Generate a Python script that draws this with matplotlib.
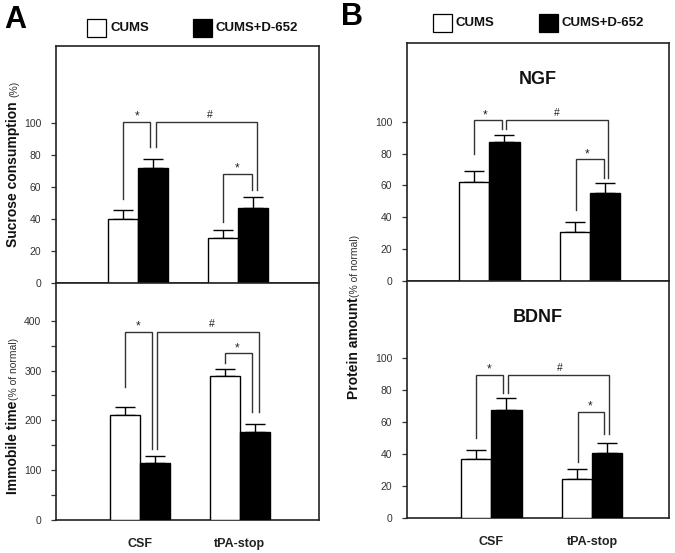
import matplotlib
matplotlib.use("Agg")
import matplotlib.pyplot as plt
from matplotlib.patches import Rectangle
from matplotlib.ticker import FixedLocator

plt.rcParams['font.family'] = ['Liberation Sans', 'DejaVu Sans']

# ---------------- data ----------------
categories = ['CSF', 'tPA-stop']
series_names = ['CUMS', 'CUMS+D-652']

sucrose_cums = [40, 28]
sucrose_cums_err = [6, 5.5]
sucrose_d652 = [72, 47]
sucrose_d652_err = [5.5, 7]

immobile_cums = [211, 288]
immobile_cums_err = [16, 15]
immobile_d652 = [115, 176]
immobile_d652_err = [13, 17]

ngf_cums = [62, 31]
ngf_cums_err = [7.3, 6]
ngf_d652 = [87.5, 55.5]
ngf_d652_err = [4.2, 6.3]

bdnf_cums = [37, 24.5]
bdnf_cums_err = [5.5, 6]
bdnf_d652 = [67.5, 41]
bdnf_d652_err = [7.3, 6.2]

pct_ticks = [0, 20, 40, 60, 80, 100]
immobile_ticks = [0, 100, 200, 300, 400]
immobile_minor_ticks = [50, 150, 250, 350]

# significance brackets: (x_left, x_right, y_left_end, y_top, y_right_end, symbol, label_x)
sucrose_brackets = [(-0.15, 0.12, 52.7, 100.8, 84.7, '*', -0.01),
                    (0.174, 1.184, 84.7, 100.8, 58, '#', 0.72),
                    (0.85, 1.134, 38.5, 68.3, 58, '*', 0.985)]
immobile_brackets = [(-0.15, 0.12, 266, 378, 142.5, '*', -0.01),
                     (0.17, 1.19, 142.5, 378, 216, '#', 0.72),
                     (0.85, 1.12, 314.6, 334.7, 216, '*', 0.98)]
ngf_brackets = [(-0.152, 0.123, 80, 101, 95.2, '*', -0.04),
                (0.166, 1.18, 95.2, 101, 64.5, '#', 0.67),
                (0.858, 1.139, 44.6, 76.4, 64.5, '*', 0.967)]
bdnf_brackets = [(-0.155, 0.12, 49.9, 89.4, 78, '*', -0.02),
                 (0.17, 1.17, 78, 89.4, 52.6, '#', 0.68),
                 (0.86, 1.12, 35.3, 66.5, 52.6, '*', 0.98)]

# ---------------- figure ----------------
W, H = 675, 553
fig = plt.figure(figsize=(W / 100, H / 100), dpi=100)


def rect(left, top, right, bottom):
    return [left / W, 1 - bottom / H, (right - left) / W, (bottom - top) / H]


LINE = '#222222'
TICKC = '#333333'


def panel(ax, cums, cums_err, d652, d652_err, brackets, ylim, ticks, minor=None,
          xlim=(-0.823, 1.807), show_x=False, title=None):
    x = list(range(len(categories)))
    w = 0.3
    xl = [i - w / 2 for i in x]
    xr = [i + w / 2 for i in x]
    ax.bar(xl, cums, width=w, color='white', edgecolor='black', linewidth=1.0, zorder=3)
    ax.bar(xr, d652, width=w, color='black', edgecolor='black', linewidth=1.0, zorder=3)
    ax.errorbar(xl, cums, yerr=[[0] * len(cums), cums_err], fmt='none', ecolor='black',
                elinewidth=1.0, capsize=7, capthick=1.0, zorder=2)
    ax.errorbar(xr, d652, yerr=[[0] * len(d652), d652_err], fmt='none', ecolor='black',
                elinewidth=1.0, capsize=7, capthick=1.0, zorder=2)
    for (x0, x1, y0, yt, y1, sym, lx) in brackets:
        ax.plot([x0, x0, x1, x1], [y0, yt, yt, y1], color='#333333', lw=1.0, zorder=4,
                solid_joinstyle='miter')
        off = 1.5 if sym == '*' else 3
        ax.annotate(sym, xy=(lx, yt), xytext=(0, off), textcoords='offset points',
                    ha='center', va='baseline', fontsize=8.5 if sym == '*' else 7.5,
                    color='#222222')
    ax.set_xlim(*xlim)
    ax.set_ylim(*ylim)
    ax.yaxis.set_major_locator(FixedLocator(ticks))
    if minor:
        ax.yaxis.set_minor_locator(FixedLocator(minor))
    ax.tick_params(axis='y', which='major', direction='out', length=3.5, width=0.9,
                   colors=TICKC, labelsize=7.5, pad=7)
    ax.tick_params(axis='y', which='minor', direction='out', length=3.5, width=0.9,
                   colors=TICKC)
    if show_x:
        ax.set_xticks(x)
        ax.set_xticklabels(categories, fontsize=9, fontweight='bold', color='#222222')
        ax.tick_params(axis='x', length=0, pad=13)
    else:
        ax.set_xticks([])
    for s in ax.spines.values():
        s.set_color(LINE)
        s.set_linewidth(1.2)
    if title:
        ax.text(0.5, 0.845, title, transform=ax.transAxes, ha='center', va='center',
                fontsize=13, fontweight='bold', color='#111111')


# Panel A
axA1 = fig.add_axes(rect(56, 46, 319, 283.3))
axA2 = fig.add_axes(rect(56, 283.3, 319, 520))
panel(axA1, sucrose_cums, sucrose_cums_err, sucrose_d652, sucrose_d652_err,
      sucrose_brackets, (0, 148), pct_ticks)
panel(axA2, immobile_cums, immobile_cums_err, immobile_d652, immobile_d652_err,
      immobile_brackets, (0, 475), immobile_ticks, minor=immobile_minor_ticks,
      xlim=(-0.835, 1.795), show_x=True)

# Panel B
axB1 = fig.add_axes(rect(406.7, 42.7, 669.3, 281))
axB2 = fig.add_axes(rect(406.7, 281, 669.3, 518.3))
panel(axB1, ngf_cums, ngf_cums_err, ngf_d652, ngf_d652_err, ngf_brackets,
      (0, 149.6), pct_ticks, xlim=(-0.82, 1.787), title='NGF')
panel(axB2, bdnf_cums, bdnf_cums_err, bdnf_d652, bdnf_d652_err, bdnf_brackets,
      (0, 148), pct_ticks, xlim=(-0.84, 1.767), show_x=True, title='BDNF')


def fx(px):
    return px / W


def fy(py):
    return 1 - py / H


# y-axis labels (bold part + small part)
def ylabel(xb, yc_bold, text_bold, yc_small, text_small, bsize, ssize):
    fig.text(fx(xb), fy(yc_bold), text_bold, rotation=90, rotation_mode='anchor',
             ha='center', va='baseline', fontsize=bsize, fontweight='bold', color='#111111')
    fig.text(fx(xb), fy(yc_small), text_small, rotation=90, rotation_mode='anchor',
             ha='center', va='baseline', fontsize=ssize, color='#333333')


ylabel(17, 174, 'Sucrose consumption', 89, '(%)', 10, 7.5)
ylabel(17, 447, 'Immobile time', 369, '(% of normal)', 10, 7.5)
ylabel(358, 348, 'Protein amount', 266, '(% of normal)', 10, 7.5)

# Panel letters
fig.text(fx(4), fy(28), 'A', fontsize=22, fontweight='bold', ha='left', va='baseline')
fig.text(fx(341), fy(25), 'B', fontsize=22, fontweight='bold', ha='left', va='baseline')


# Legends
def legend(x_white, x_black, y_top, size=(19, 18)):
    sw, sh = size
    for xs, fc, name in [(x_white, 'white', series_names[0]), (x_black, 'black', series_names[1])]:
        fig.patches.append(Rectangle((fx(xs), fy(y_top + sh)), sw / W, sh / H,
                                     transform=fig.transFigure, facecolor=fc,
                                     edgecolor='black', linewidth=0.9))
        fig.text(fx(xs + sw + 4), fy(y_top + sh / 2), name, fontsize=9.5,
                 fontweight='bold', ha='left', va='center', color='#111111')


legend(87, 193, 19)
legend(433, 539, 14)

fig.savefig('out.png', dpi=100, facecolor='white')
